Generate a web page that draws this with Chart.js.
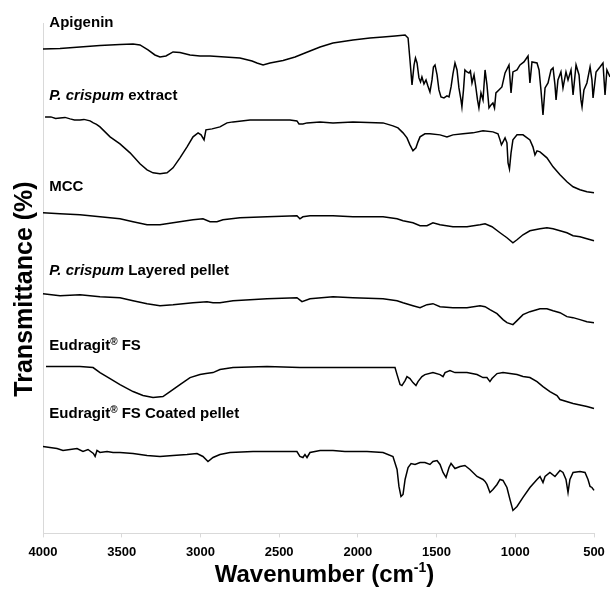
<!DOCTYPE html>
<html>
<head>
<meta charset="utf-8">
<script src="https://cdn.jsdelivr.net/npm/chart.js@4/dist/chart.umd.min.js"></script>
<style>
  html, body { margin: 0; padding: 0; background: #fff; }
  #wrap { width: 610px; height: 590px; }
</style>
</head>
<body>
<div id="wrap"><canvas id="c" width="610" height="590"></canvas></div>
<script>
// ---- Data (x = wavenumber cm-1, y = offset transmittance, arbitrary units) ----
const xTicks = [4000, 3500, 3000, 2500, 2000, 1500, 1000, 500];
const xTitle = 'Wavenumber (cm';
const xTitleSup = '-1';
const yTitle = 'Transmittance (%)';

const seriesNames = ['Apigenin', 'P. crispum extract', 'MCC', 'P. crispum Layered pellet', 'Eudragit® FS', 'Eudragit® FS Coated pellet'];

const apigenin = [[4000,485],[3892,485.5],[3765,487],[3638,488.5],[3511,489.5],[3428,490],[3384,489],[3333,484],[3289,479],[3257,477],[3219,478],[3174,482],[3130,481.5],[3066,479],[3003,478],[2939,478],[2844,477],[2749,476],[2672,473],[2641,471],[2602,469],[2558,471],[2475,473.5],[2399,477],[2336,481],[2240,487],[2158,491],[2031,494],[1923,496],[1840,497],[1764,498],[1700,499],[1681,496],[1669,474],[1656,449],[1643,469],[1634,476],[1624,471],[1612,456],[1602,452],[1593,457],[1580,450],[1567,454],[1555,448],[1542,442],[1529,454],[1520,467],[1510,469],[1497,459],[1485,444],[1472,437],[1453,436],[1434,438],[1421,437],[1408,447],[1396,460],[1383,471],[1370,464],[1358,446],[1345,434],[1339,427],[1329,444],[1320,464],[1307,462],[1294,461],[1285,463],[1275,451],[1262,459],[1250,446],[1240,434],[1231,426],[1218,441],[1205,434],[1192,464],[1180,449],[1167,426],[1154,429],[1142,431],[1132,426],[1123,441],[1104,444],[1085,447],[1065,461],[1040,469],[1027,441],[1015,462],[989,464],[970,469],[945,472],[919,478],[907,451],[894,472],[862,471],[849,464],[837,444],[824,419],[811,446],[792,451],[773,464],[760,466],[748,449],[741,434],[729,454],[710,462],[697,446],[678,462],[665,454],[646,464],[633,439],[614,469],[595,459],[583,434],[576,427],[564,444],[545,451],[525,467],[513,454],[506,436],[487,462],[462,467],[443,471],[430,439],[418,464],[398,457]];

const extract = [[3987,417],[3950,417],[3920,415.5],[3892,416],[3860,416.5],[3828,415],[3800,414],[3765,414],[3740,414.5],[3701,413],[3680,411],[3660,409.5],[3638,407],[3574,397],[3511,390],[3447,381],[3384,370],[3339,364],[3301,361],[3257,360],[3212,361],[3174,366],[3130,376],[3085,387],[3047,397],[3015,401],[2996,399],[2977,394],[2965,404],[2926,405],[2876,407],[2831,411],[2793,412],[2685,414],[2431,414],[2387,413],[2374,410],[2349,410],[2323,411],[2240,412],[2158,411],[2031,412],[1840,411],[1777,408],[1745,406],[1713,401],[1688,396],[1669,389],[1650,383],[1631,386],[1618,392],[1605,397],[1574,400],[1542,400],[1478,399],[1434,397],[1396,399],[1332,400],[1269,401],[1205,403],[1142,402],[1110,400],[1097,394],[1088,389],[1078,392],[1065,396],[1053,391],[1046,371],[1037,365],[1027,381],[1015,394],[989,399],[951,399],[907,394],[888,387],[875,379],[862,383],[843,382],[799,376],[760,367],[716,359],[672,352],[633,347],[589,344],[545,342],[500,341]];

const mcc = [[4000,321],[3892,320],[3765,319],[3638,317],[3511,315],[3428,312],[3339,309],[3257,309],[3174,311],[3047,314],[2984,315],[2939,312],[2895,312],[2857,314],[2749,316],[2577,317],[2387,318],[2368,315],[2349,317],[2304,318],[2158,318],[2031,317],[1840,317],[1751,315],[1713,313],[1650,311],[1605,308],[1561,308],[1523,311],[1478,309],[1396,307],[1307,307],[1224,309],[1192,310],[1148,307],[1097,301],[1053,296],[1015,291],[989,294],[951,299],[907,303],[843,305],[799,306],[760,305],[716,303],[672,301],[633,298],[589,297],[545,295],[500,293]];

const layered = [[4000,240],[3892,238],[3765,239],[3638,237],[3511,236],[3428,233],[3339,230],[3257,228],[3174,229],[3047,231],[2958,232],[2920,231],[2876,231],[2793,233],[2577,235],[2387,236],[2355,232],[2304,235],[2158,237],[2031,236],[1840,235],[1751,233],[1713,231],[1650,228],[1605,226],[1561,229],[1523,230],[1478,227],[1396,226],[1307,226],[1224,228],[1192,227],[1161,224],[1116,220],[1078,214],[1053,211],[1015,209],[989,213],[951,219],[907,222],[843,225],[799,225],[760,223],[716,221],[672,217],[633,216],[589,214],[545,212],[500,211]];

const eudragit = [[3981,167],[3892,167],[3765,167],[3682,166],[3638,161],[3574,155],[3511,149],[3428,142],[3365,138],[3301,136],[3238,137],[3193,142],[3130,149],[3066,156],[3003,159],[2965,160],[2920,161],[2876,164],[2793,166],[2577,167],[2368,166],[2158,166],[2031,166],[1840,166],[1764,166],[1751,159],[1732,149],[1720,148],[1700,153],[1688,157],[1669,155],[1650,151],[1631,148],[1618,152],[1593,157],[1574,159],[1523,161],[1478,159],[1459,157],[1446,161],[1415,163],[1383,161],[1307,161],[1243,159],[1205,156],[1180,156],[1161,152],[1148,155],[1116,160],[1078,161],[1034,160],[989,159],[951,157],[907,156],[862,152],[824,147],[780,142],[735,138],[716,134],[633,130],[545,127],[500,125]];

const coated = [[4000,87],[3956,86],[3911,85],[3873,83],[3828,84],[3784,85],[3746,82],[3714,84],[3680,80],[3669,77],[3657,83],[3638,81],[3593,82],[3555,81],[3511,81],[3428,80],[3339,78],[3257,77],[3174,78],[3085,79],[3022,80],[2984,77],[2952,72],[2920,76],[2876,79],[2812,81],[2666,82],[2495,82],[2387,82],[2368,77],[2349,76],[2336,79],[2323,76],[2304,81],[2240,83],[2158,83],[2082,82],[2031,82],[1942,82],[1840,81],[1777,77],[1751,64],[1739,47],[1726,37],[1713,39],[1700,54],[1681,66],[1662,70],[1637,69],[1605,71],[1574,71],[1542,69],[1523,72],[1497,73],[1478,69],[1459,61],[1440,56],[1421,66],[1408,70],[1383,65],[1351,67],[1320,68],[1288,64],[1243,57],[1205,54],[1192,52],[1180,49],[1161,41],[1142,44],[1116,49],[1097,54],[1078,53],[1053,46],[1034,34],[1015,23],[989,27],[951,36],[907,46],[862,54],[843,57],[824,51],[811,57],[780,61],[748,57],[716,63],[697,61],[678,54],[665,41],[653,54],[633,61],[589,62],[557,61],[538,54],[525,47],[513,46],[500,43]];

// label anchors (wavenumber, value) for the series names
const labelX = 3960;
const labelY = [507, 434, 343, 259, 184, 116];

const seriesData = [apigenin, extract, mcc, layered, eudragit, coated];

// ---- Chart ----
const FONT = '"Liberation Sans", Arial, Helvetica, sans-serif';

function drawRich(ctx, parts, x, y) {
  let cx = x;
  for (const [txt, style] of parts) {
    if (style === 'sup') {
      ctx.font = 'bold 10px ' + FONT;
      ctx.fillText(txt, cx, y - 5);
    } else {
      ctx.font = (style === 'bi' ? 'italic bold 15px ' : 'bold 15px ') + FONT;
      ctx.fillText(txt, cx, y);
    }
    cx += ctx.measureText(txt).width;
  }
}

function splitName(name) {
  const parts = [];
  let rest = name;
  if (rest.startsWith('P. crispum')) { parts.push(['P. crispum', 'bi']); rest = rest.slice(10); }
  const idx = rest.indexOf('®');
  if (idx >= 0) {
    parts.push([rest.slice(0, idx), 'b']);
    parts.push(['®', 'sup']);
    parts.push([rest.slice(idx + 1), 'b']);
  } else {
    parts.push([rest, 'b']);
  }
  return parts;
}

const annotate = {
  id: 'annotate',
  afterDraw(chart) {
    const ctx = chart.ctx;
    const xs = chart.scales.x, ys = chart.scales.y;
    const area = chart.chartArea;
    ctx.save();
    ctx.fillStyle = '#000';
    ctx.textAlign = 'left';
    ctx.textBaseline = 'alphabetic';
    seriesNames.forEach((n, i) => {
      drawRich(ctx, splitName(n), xs.getPixelForValue(labelX), ys.getPixelForValue(labelY[i]));
    });
    // x title with superscript
    ctx.font = 'bold 24px ' + FONT;
    const w1 = ctx.measureText(xTitle).width;
    const w3 = ctx.measureText(')').width;
    ctx.font = 'bold 14px ' + FONT;
    const w2 = ctx.measureText(xTitleSup).width;
    const total = w1 + w2 + w3;
    let sx = (area.left + area.right) / 2 - total / 2 + 6;
    const by = 582;
    ctx.font = 'bold 24px ' + FONT;
    ctx.fillText(xTitle, sx, by);
    ctx.font = 'bold 14px ' + FONT;
    ctx.fillText(xTitleSup, sx + w1, by - 10);
    ctx.font = 'bold 24px ' + FONT;
    ctx.fillText(')', sx + w1 + w2, by);
    // y title
    ctx.translate(32, 289);
    ctx.rotate(-Math.PI / 2);
    ctx.textAlign = 'center';
    ctx.font = 'bold 25px ' + FONT;
    ctx.fillText(yTitle, 0, 0);
    ctx.restore();
  }
};

new Chart(document.getElementById('c'), {
  type: 'line',
  data: {
    datasets: seriesData.map((d, i) => ({
      label: seriesNames[i],
      data: d.map(p => ({x: p[0], y: p[1]})),
      borderColor: '#000',
      borderWidth: 1.5,
      pointRadius: 0,
      tension: 0,
      fill: false,
      clip: false
    }))
  },
  options: {
    responsive: false,
    animation: false,
    devicePixelRatio: 1,
    layout: { padding: { left: 43, right: 16, top: 23, bottom: 23 } },
    plugins: { legend: { display: false }, tooltip: { enabled: false }, title: { display: false } },
    scales: {
      x: {
        type: 'linear',
        min: 500,
        max: 4000,
        reverse: true,
        afterBuildTicks: (scale) => { scale.ticks = xTicks.map(v => ({ value: v })); },
        afterFit: (scale) => { scale.paddingLeft = 0; scale.paddingRight = 0; },
        ticks: {
          color: '#000',
          font: { family: FONT, size: 13, weight: 'bold' },
          padding: 7,
          maxRotation: 0,
          autoSkip: false,
          callback: (v) => String(v)
        },
        grid: { display: true, drawOnChartArea: false, drawTicks: true, tickLength: 4, color: '#d9d9d9' },
        border: { display: true, color: '#d9d9d9', width: 1 }
      },
      y: {
        min: 0,
        max: 511,
        ticks: { display: false },
        grid: { display: false, drawTicks: false },
        border: { display: true, color: '#d9d9d9', width: 1 }
      }
    }
  },
  plugins: [annotate]
});
</script>
</body>
</html>
